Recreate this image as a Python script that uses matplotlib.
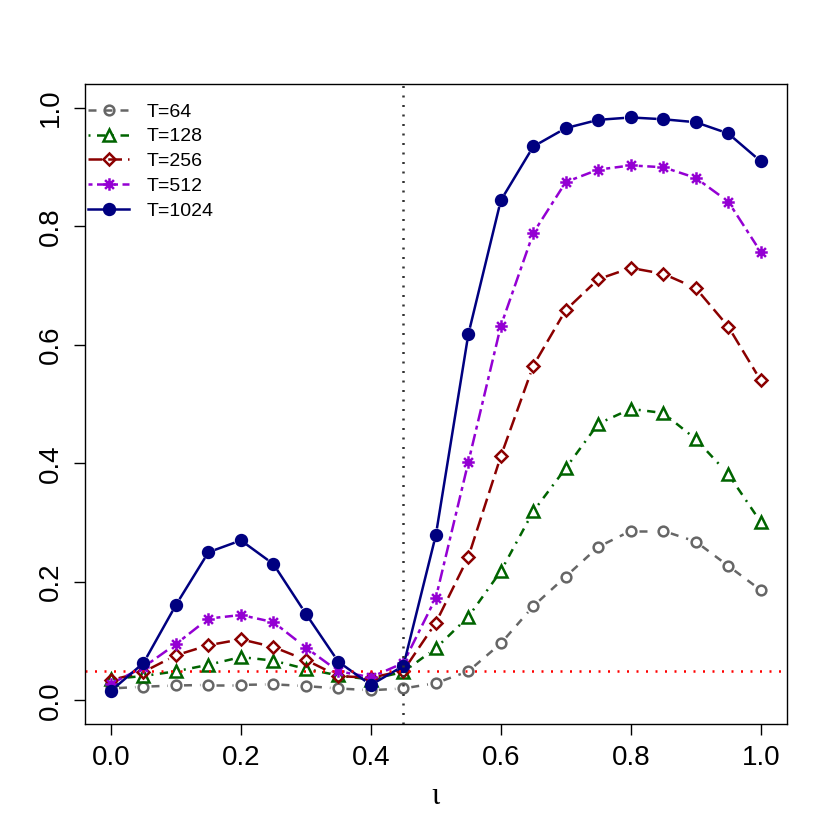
import numpy as np
import matplotlib
matplotlib.use('Agg')
import matplotlib.pyplot as plt
from matplotlib.path import Path
from matplotlib.lines import Line2D

# grid of iota values
iota = [0.0, 0.05, 0.1, 0.15, 0.2, 0.25, 0.3, 0.35, 0.4, 0.45, 0.5,
        0.55, 0.6, 0.65, 0.7, 0.75, 0.8, 0.85, 0.9, 0.95, 1.0]

# rejection rates
t64 = [0.020, 0.023, 0.025, 0.026, 0.026, 0.027, 0.024, 0.020, 0.017, 0.020, 0.029,
       0.049, 0.096, 0.159, 0.209, 0.259, 0.286, 0.286, 0.268, 0.227, 0.186]
t128 = [0.036, 0.041, 0.049, 0.060, 0.073, 0.067, 0.053, 0.042, 0.035, 0.048, 0.088,
        0.141, 0.218, 0.319, 0.392, 0.467, 0.492, 0.485, 0.441, 0.382, 0.301]
t256 = [0.034, 0.048, 0.076, 0.093, 0.103, 0.090, 0.068, 0.041, 0.038, 0.050, 0.131,
        0.242, 0.412, 0.565, 0.659, 0.711, 0.730, 0.720, 0.696, 0.631, 0.540]
t512 = [0.028, 0.056, 0.095, 0.138, 0.144, 0.132, 0.089, 0.049, 0.039, 0.063, 0.173,
        0.402, 0.632, 0.789, 0.875, 0.896, 0.903, 0.900, 0.882, 0.842, 0.757]
t1024 = [0.016, 0.063, 0.161, 0.250, 0.270, 0.230, 0.146, 0.065, 0.026, 0.058, 0.279,
         0.618, 0.844, 0.935, 0.966, 0.980, 0.984, 0.981, 0.976, 0.957, 0.910]

labels = ['T=64', 'T=128', 'T=256', 'T=512', 'T=1024']
alpha_level = 0.05
iota_cut = 0.45

plt.rcParams['font.family'] = ['Liberation Sans', 'DejaVu Sans']

# R style pch=8 asterisk
a = np.sqrt(0.5)
star = Path([(-1, 0), (1, 0), (0, -1), (0, 1), (-a, -a), (a, a), (-a, a), (a, -a)],
            [Path.MOVETO, Path.LINETO] * 4)

LW = 1.8
styles = [
    dict(color='#666666', ls=(0, (3.2, 3.2)), marker='o', ms=7, mfc='none'),
    dict(color='#006400', ls=(0, (0.8, 2.6, 3.4, 2.6)), marker='^', ms=8, mfc='none'),
    dict(color='#8B0000', ls=(0, (5.5, 2.4)), marker='D', ms=6.3, mfc='none'),
    dict(color='#9400D3', ls=(0, (1.6, 1.8, 5, 1.8)), marker=star, ms=9, mfc='none'),
    dict(color='#000080', ls='-', marker='o', ms=7.8, mfc='#000080'),
]

fig = plt.figure(figsize=(8.3, 8.3), dpi=100)
ax = fig.add_axes([85 / 830, 1 - 724 / 830, (786.7 - 85) / 830, (724 - 84.3) / 830])
ax.set_xlim(-0.04, 1.04)
ax.set_ylim(-0.04, 1.04)

# type="b": segments stop short of the points
gap = 8.0
handles = []
for y, lab, st in zip([t64, t128, t256, t512, t1024], labels, styles):
    pts = ax.transData.transform(np.column_stack([iota, y]))
    for p0, p1 in zip(pts[:-1], pts[1:]):
        d = p1 - p0
        n = np.hypot(*d)
        if n <= 2 * gap:
            continue
        u = d / n
        seg = ax.transData.inverted().transform([p0 + u * gap, p1 - u * gap])
        ax.plot(seg[:, 0], seg[:, 1], color=st['color'], ls=st['ls'], lw=LW)
    ax.plot(iota, y, ls='none', marker=st['marker'], ms=st['ms'], mfc=st['mfc'],
            mec=st['color'], mew=LW)
    handles.append(Line2D([], [], lw=LW, mew=LW, mec=st['color'], label=lab, **st))

ax.axhline(alpha_level, color='red', lw=LW, ls=(0, (0.8, 3)))
ax.axvline(iota_cut, color='#333333', lw=LW, ls=(0, (0.8, 3)))

ax.set_xticks([0.0, 0.2, 0.4, 0.6, 0.8, 1.0])
ax.set_yticks([0.0, 0.2, 0.4, 0.6, 0.8, 1.0])
ax.xaxis.set_major_formatter(matplotlib.ticker.FormatStrFormatter('%.1f'))
ax.yaxis.set_major_formatter(matplotlib.ticker.FormatStrFormatter('%.1f'))
ax.tick_params(labelsize=20, length=8, width=1, pad=7)
for t in ax.get_yticklabels():
    t.set_rotation(90)
    t.set_va('center')
for s in ax.spines.values():
    s.set_linewidth(1)

ax.set_xlabel('ι', fontsize=22, family=['Liberation Serif', 'DejaVu Serif'], labelpad=8)

ax.legend(handles=handles, loc='upper left', bbox_to_anchor=(-0.009, 0.986),
          frameon=False, fontsize=14, handlelength=2.1, handletextpad=0.9,
          labelspacing=0.37, borderaxespad=0.3, borderpad=0.2)

plt.savefig('out.png', dpi=100)
